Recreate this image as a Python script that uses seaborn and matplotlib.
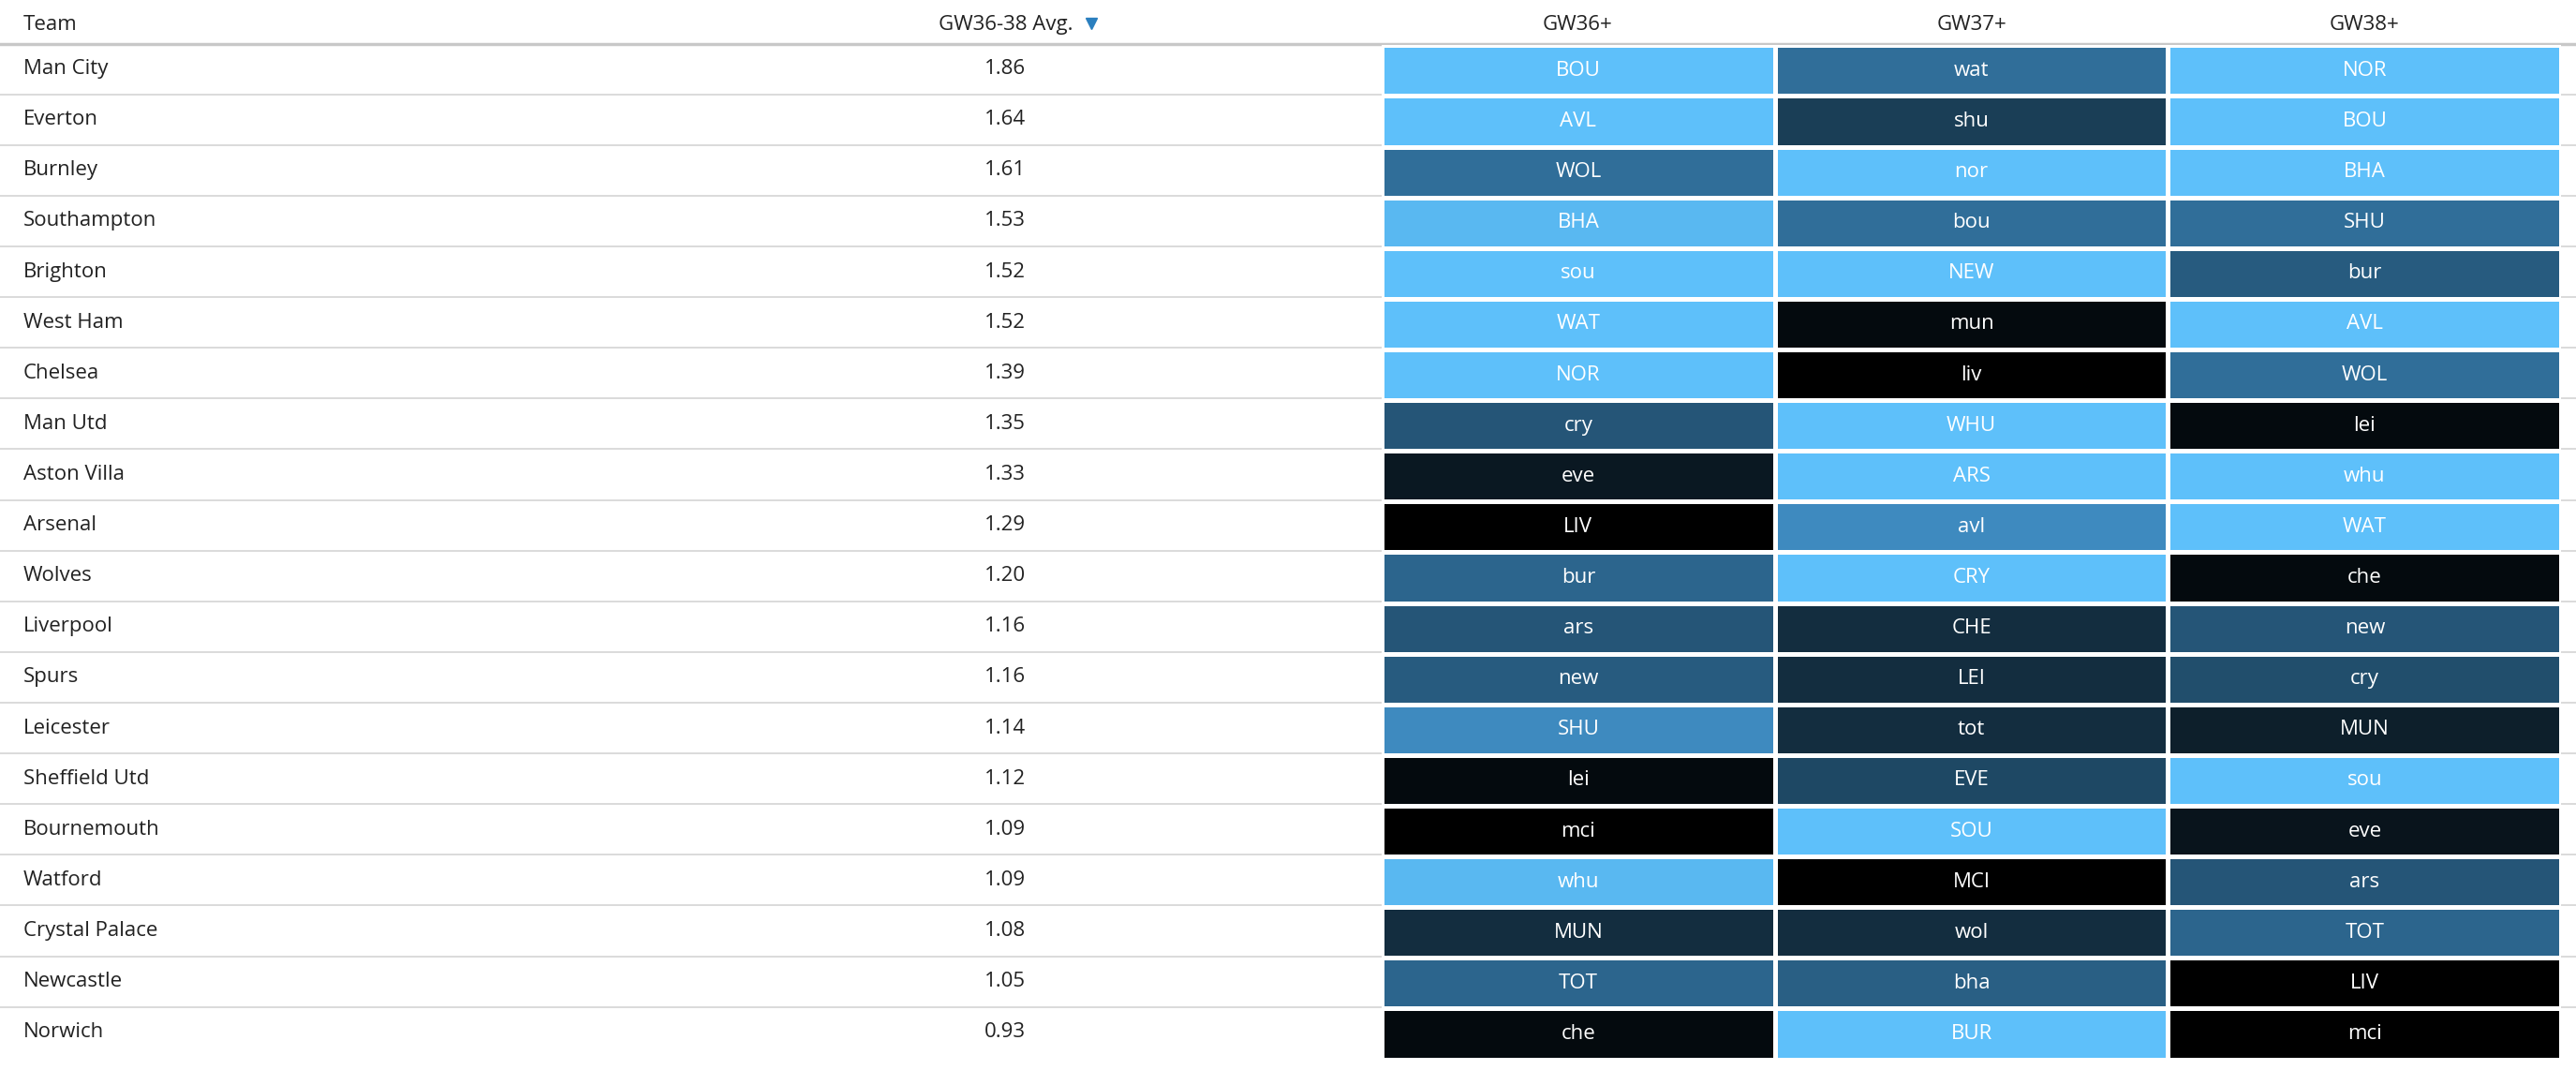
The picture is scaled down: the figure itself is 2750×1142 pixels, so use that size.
import numpy as np
import pandas as pd
import seaborn as sns
import matplotlib.pyplot as plt
from matplotlib.colors import LinearSegmentedColormap

teams = ['Man City', 'Everton', 'Burnley', 'Southampton', 'Brighton', 'West Ham', 'Chelsea',
         'Man Utd', 'Aston Villa', 'Arsenal', 'Wolves', 'Liverpool', 'Spurs', 'Leicester',
         'Sheffield Utd', 'Bournemouth', 'Watford', 'Crystal Palace', 'Newcastle', 'Norwich']
avg = [1.86, 1.64, 1.61, 1.53, 1.52, 1.52, 1.39, 1.35, 1.33, 1.29,
       1.20, 1.16, 1.16, 1.14, 1.12, 1.09, 1.09, 1.08, 1.05, 0.93]
gw_cols = ['GW36+', 'GW37+', 'GW38+']

opp36 = ['BOU', 'AVL', 'WOL', 'BHA', 'sou', 'WAT', 'NOR', 'cry', 'eve', 'LIV',
         'bur', 'ars', 'new', 'SHU', 'lei', 'mci', 'whu', 'MUN', 'TOT', 'che']
opp37 = ['wat', 'shu', 'nor', 'bou', 'NEW', 'mun', 'liv', 'WHU', 'ARS', 'avl',
         'CRY', 'CHE', 'LEI', 'tot', 'EVE', 'SOU', 'MCI', 'wol', 'bha', 'BUR']
opp38 = ['NOR', 'BOU', 'BHA', 'SHU', 'bur', 'AVL', 'WOL', 'lei', 'whu', 'WAT',
         'che', 'new', 'cry', 'MUN', 'sou', 'eve', 'ars', 'TOT', 'LIV', 'mci']

# fixture ease (0 = hardest / black, 1 = easiest / light blue), read from shading
ease36 = [1.0, 1.0, 0.55, 0.95, 1.0, 1.0, 1.0, 0.42, 0.12, 0.0,
          0.5, 0.42, 0.45, 0.7, 0.05, 0.0, 0.95, 0.22, 0.5, 0.05]
ease37 = [0.55, 0.3, 1.0, 0.55, 1.0, 0.05, 0.0, 1.0, 1.0, 0.7,
          1.0, 0.22, 0.22, 0.22, 0.35, 1.0, 0.0, 0.22, 0.47, 1.0]
ease38 = [1.0, 1.0, 1.0, 0.55, 0.45, 1.0, 0.55, 0.05, 1.0, 1.0,
          0.05, 0.42, 0.38, 0.15, 1.0, 0.1, 0.42, 0.5, 0.0, 0.0]

W, H = 1568, 650
fig = plt.figure(figsize=(27.5, 11.42), dpi=100)
plt.rcParams['font.family'] = 'Open Sans'
fs = 16

ax = fig.add_axes([0, 0, 1, 1])
ax.set_xlim(0, W)
ax.set_ylim(H, 0)
ax.axis('off')

top = 26.5
row_h = 30.8

ax.text(14, 15, 'Team', fontsize=fs, va='center', color='#222222')
ax.text(612, 15, 'GW36-38 Avg.', fontsize=fs, va='center', ha='center', color='#222222')
ax.plot([664], [14], marker='v', color='#2a7fbf', markersize=9)
for x, name in zip([960, 1200, 1439], gw_cols):
    ax.text(x, 15, name, fontsize=fs, va='center', ha='center', color='#222222')
ax.plot([0, W], [top, top], color='#c8c8c8', lw=2.5)

for i, (t, a) in enumerate(zip(teams, avg)):
    yc = top + (i + 0.5) * row_h
    ax.text(14, yc, t, fontsize=fs, va='center', color='#222222')
    ax.text(612, yc, f'{a:.2f}', fontsize=fs, va='center', ha='center', color='#222222')
    if i < len(teams) - 1:
        yl = top + (i + 1) * row_h
        ax.plot([0, W], [yl, yl], color='#d8d8d8', lw=1.3)

vals = pd.DataFrame({'GW36+': ease36, 'GW37+': ease37, 'GW38+': ease38}, index=teams)
labels = np.array([opp36, opp37, opp38]).T

cmap = LinearSegmentedColormap.from_list('fdr', ['#000000', '#1d4560', '#3a84b8', '#5ec0fa'])
bottom = top + len(teams) * row_h
hax = fig.add_axes([841 / W, 1 - (bottom + 1) / H, 718 / W, (bottom - top) / H])
sns.heatmap(vals, ax=hax, cmap=cmap, vmin=0, vmax=1, cbar=False, annot=labels, fmt='',
            annot_kws={'color': 'white', 'fontsize': fs}, linewidths=3.5, linecolor='white')
hax.axis('off')

fig.savefig('out.png', dpi=100)
